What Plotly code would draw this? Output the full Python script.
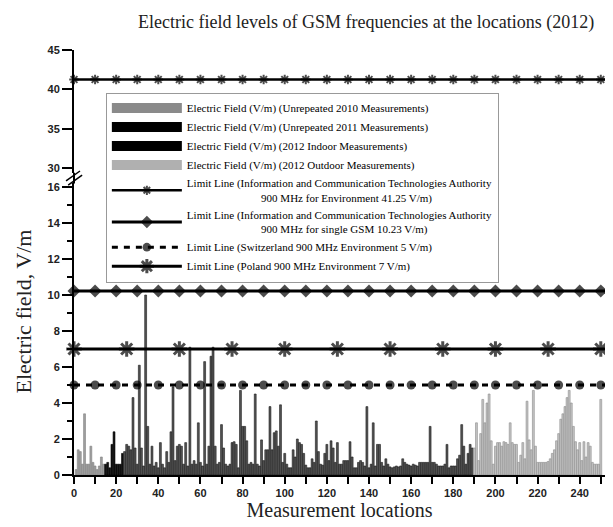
import plotly.graph_objects as go

# ---------------- data ----------------
loc_2010_start = 1
e_2010 = [0.3, 1.4, 1.3, 0.6, 3.4, 0.6, 0.6, 1.6, 0.7, 0.5, 0.3, 0.5, 1.0, 0.6]

loc_2011_start = 15
e_2011 = [0.6, 0.7, 0.4, 1.7, 2.4, 0.6, 0.6, 0.6, 1.2]

loc_indoor_start = 24
e_2012_indoor = [
    1.3, 1.7, 1.6, 1.4, 4.3, 1.5, 0.6, 6.1, 1.5, 0.5,   # 24-33
    10.0, 2.7, 0.6, 1.6, 0.5, 0.7, 0.4, 1.8, 0.6, 0.4,  # 34-43
    1.3, 0.7, 2.4, 4.9, 0.8, 1.6, 1.7, 1.6, 0.6, 1.8,   # 44-53
    0.5, 7.1, 0.6, 0.8, 0.6, 2.9, 0.7, 0.5, 6.3, 0.6,   # 54-63
    1.6, 6.6, 7.1, 1.6, 0.6, 0.7, 2.8, 1.5, 0.6, 0.5,   # 64-73
    0.6, 1.8, 1.85, 1.7, 0.4, 4.7, 2.7, 2.7, 1.9, 0.6,  # 74-83
    0.7, 0.6, 4.5, 0.6, 0.5, 1.95, 0.8, 1.4, 1.4, 3.8,  # 84-93
    1.4, 2.35, 2.45, 1.6, 3.9, 0.7, 1.2, 0.6, 0.4, 0.4, # 94-103
    1.4, 1.0, 2.0, 1.8, 1.7, 1.2, 0.55, 0.4, 0.4, 0.9,  # 104-113
    0.7, 3.0, 1.3, 0.6, 0.55, 1.2, 1.7, 0.8, 1.9, 1.5,  # 114-123
    0.7, 1.8, 0.6, 0.6, 0.8, 0.8, 0.8, 1.85, 1.0, 0.4,  # 124-133
    0.4, 0.7, 0.8, 0.7, 0.5, 3.8, 0.4, 0.6, 2.9, 0.5,   # 134-143
    1.7, 1.7, 0.7, 0.5, 0.9, 0.6, 0.45, 0.4, 0.45, 0.5, # 144-153
    0.45, 0.5, 0.9, 0.7, 0.6, 0.55, 0.5, 0.6, 0.55, 0.5,# 154-163
    0.7, 0.7, 0.7, 0.7, 0.7, 2.7, 0.7, 0.7, 0.6, 0.5,   # 164-173
    0.5, 0.5, 0.6, 1.7, 0.4, 0.5, 0.5, 0.5, 0.9, 1.1,   # 174-183
    2.8, 1.6, 0.6, 1.2, 1.7, 1.5,                       # 184-189
]

loc_outdoor_start = 190
e_2012_outdoor = [
    1.5, 2.9, 0.8, 2.3, 4.2, 2.9, 4.0, 4.5, 1.9, 0.6,   # 190-199
    1.6, 1.8, 1.8, 1.6, 1.85, 1.8, 1.7, 2.9, 1.8, 1.7,  # 200-209
    1.7, 0.7, 1.1, 1.8, 0.9, 4.1, 1.95, 1.4, 4.7, 1.6,  # 210-219
    0.7, 0.7, 0.7, 0.7, 0.7, 0.75, 0.9, 1.2, 1.4, 1.9,  # 220-229
    2.3, 3.1, 3.4, 3.8, 4.3, 4.7, 4.0, 2.7, 1.85, 1.4,  # 230-239
    1.8, 0.8, 1.85, 1.0, 1.8, 1.6, 0.7, 0.6, 0.6, 0.6,  # 240-249
    4.2,                                                # 250
]

# limit values (V/m)
limit_icta_env = 41.25
limit_icta_single = 10.23
limit_switzerland = 5.0
limit_poland = 7.0

# marker positions along the limit lines
marks_every10 = [0, 10, 20, 30, 40, 50, 60, 70, 80, 90, 100, 110, 120, 130,
                 140, 150, 160, 170, 180, 190, 200, 210, 220, 230, 240, 250]
marks_every25 = [0, 25, 50, 75, 100, 125, 150, 175, 200, 225, 250]
x_end = 252

x_ticks = [0, 20, 40, 60, 80, 100, 120, 140, 160, 180, 200, 220, 240]
y_low_ticks = [0, 2, 4, 6, 8, 10, 12, 14, 16]
y_high_ticks = [30, 35, 40, 45]

names = [
    "Electric Field (V/m) (Unrepeated 2010 Measurements)",
    "Electric Field (V/m) (Unrepeated 2011 Measurements)",
    "Electric Field (V/m) (2012 Indoor Measurements)",
    "Electric Field (V/m) (2012 Outdoor Measurements)",
    "Limit Line (Information and Communication Technologies Authority<br>"
    + "\u00a0" * 27 + "900 MHz for Environment 41.25 V/m)",
    "Limit Line (Information and Communication Technologies Authority<br>"
    + "\u00a0" * 27 + "900 MHz for single GSM 10.23 V/m)",
    "Limit Line (Switzerland 900 MHz Environment 5 V/m)",
    "Limit Line (Poland 900 MHz Environment 7 V/m)",
]


def locs(start, vals):
    return list(range(start, start + len(vals)))


fig = go.Figure()

bar_styles = [
    (loc_2010_start, e_2010, "#a0a0a0", "#808080", "#8a8a8a"),
    (loc_2011_start, e_2011, "#111111", "#000000", "#000000"),
    (loc_indoor_start, e_2012_indoor, "#555555", "#1a1a1a", "#000000"),
    (loc_outdoor_start, e_2012_outdoor, "#c4c4c4", "#8c8c8c", "#b0b0b0"),
]
for (start, vals, fill, edge, swatch), nm in zip(bar_styles, names[:4]):
    fig.add_trace(go.Bar(
        x=locs(start, vals), y=vals, name=nm, width=0.9, showlegend=False,
        legendgroup=nm,
        marker=dict(color=fill, line=dict(color=edge, width=0.6)),
        xaxis="x", yaxis="y",
    ))
    # legend swatch (wide block like the original)
    fig.add_trace(go.Scatter(
        x=[None], y=[None], name=nm, mode="lines", legendgroup=nm,
        line=dict(color=swatch, width=14), xaxis="x", yaxis="y",
    ))


def limit_trace(value, marks, name, symbol, size, dash, lw, mlw, yaxis):
    xs = marks + [x_end]
    sizes = [size] * len(marks) + [0]
    return go.Scatter(
        x=xs, y=[value] * len(xs), name=name, mode="lines+markers",
        line=dict(color="black", width=lw, dash=dash),
        marker=dict(symbol=symbol, size=sizes, color="black",
                    line=dict(color="black", width=mlw)),
        xaxis="x", yaxis=yaxis, cliponaxis=False,
    )


fig.add_trace(limit_trace(limit_icta_env, marks_every10, names[4],
                          "asterisk-open", 8, "solid", 2.5, 2, "y2"))
fig.add_trace(limit_trace(limit_icta_single, marks_every10, names[5],
                          "diamond", 10, "solid", 3, 0, "y"))
fig.add_trace(limit_trace(limit_switzerland, marks_every10, names[6],
                          "circle", 9, "6px,6px", 3, 0, "y"))
fig.add_trace(limit_trace(limit_poland, marks_every25, names[7],
                          "asterisk-open", 13, "solid", 3, 3, "y"))

tickfont = dict(family="Liberation Sans", size=11, color="#222", weight="bold")
serif = "Liberation Serif"

# the page body adds an 8px offset, so the figure is sized to the visible area
fig.update_layout(
    width=605, height=519,
    paper_bgcolor="white", plot_bgcolor="white",
    margin=dict(l=66, r=8, t=42, b=52),
    barmode="overlay",
    showlegend=True,
    title=dict(text="Electric field levels of GSM frequencies at the locations (2012)",
               font=dict(family=serif, size=18, color="#222"),
               x=0.592, xanchor="center", xref="container",
               y=0.973, yanchor="middle", yref="container"),
    xaxis=dict(range=[0, x_end], tickvals=x_ticks, ticks="outside", ticklen=7,
               tickwidth=1.5, tickcolor="black",
               minor=dict(dtick=10, tick0=0, ticks="outside", ticklen=7,
                          tickwidth=1.5, tickcolor="black"),
               showline=True, linecolor="black", linewidth=2,
               showgrid=False, zeroline=False, anchor="y",
               tickfont=tickfont,
               title=dict(text="Measurement locations",
                          font=dict(family=serif, size=20, color="#222"),
                          standoff=4)),
    yaxis=dict(domain=[0, 0.686], range=[0, 16.2], tickvals=y_low_ticks,
               ticks="outside", ticklen=10, tickwidth=1.5, tickcolor="black",
               minor=dict(dtick=1, tick0=0, ticks="outside", ticklen=5,
                          tickwidth=1.5, tickcolor="black"),
               showline=True, linecolor="black", linewidth=2,
               showgrid=False, zeroline=False, anchor="x",
               tickfont=tickfont),
    yaxis2=dict(domain=[0.7113, 1], range=[29.4, 45], tickvals=y_high_ticks,
                ticks="outside", ticklen=10, tickwidth=1.5, tickcolor="black",
                showline=True, linecolor="black", linewidth=2,
                showgrid=False, zeroline=False, anchor="x",
                tickfont=tickfont),
    legend=dict(x=0.06, y=0.9, xanchor="left", yanchor="top",
                bgcolor="white", bordercolor="#999", borderwidth=1,
                font=dict(family=serif, size=11, color="black"),
                itemwidth=70, tracegroupgap=0, traceorder="normal"),
    annotations=[dict(text="Electric field, V/m", textangle=-90,
                      xref="paper", yref="paper", x=-0.122, y=0.384,
                      xanchor="left", yanchor="middle", showarrow=False,
                      font=dict(family=serif, size=22, color="#222"))],
    shapes=[
        dict(type="line", xref="paper", yref="paper", x0=0, x1=0,
             y0=0.686, y1=0.7113, line=dict(color="black", width=2)),
        dict(type="line", xref="paper", yref="paper", x0=-0.015, x1=0.0113,
             y0=0.6918, y1=0.7153, line=dict(color="black", width=1.5)),
        dict(type="line", xref="paper", yref="paper", x0=-0.011, x1=0.0153,
             y0=0.682, y1=0.7055, line=dict(color="black", width=1.5)),
    ],
)

fig.write_html("out.html")
